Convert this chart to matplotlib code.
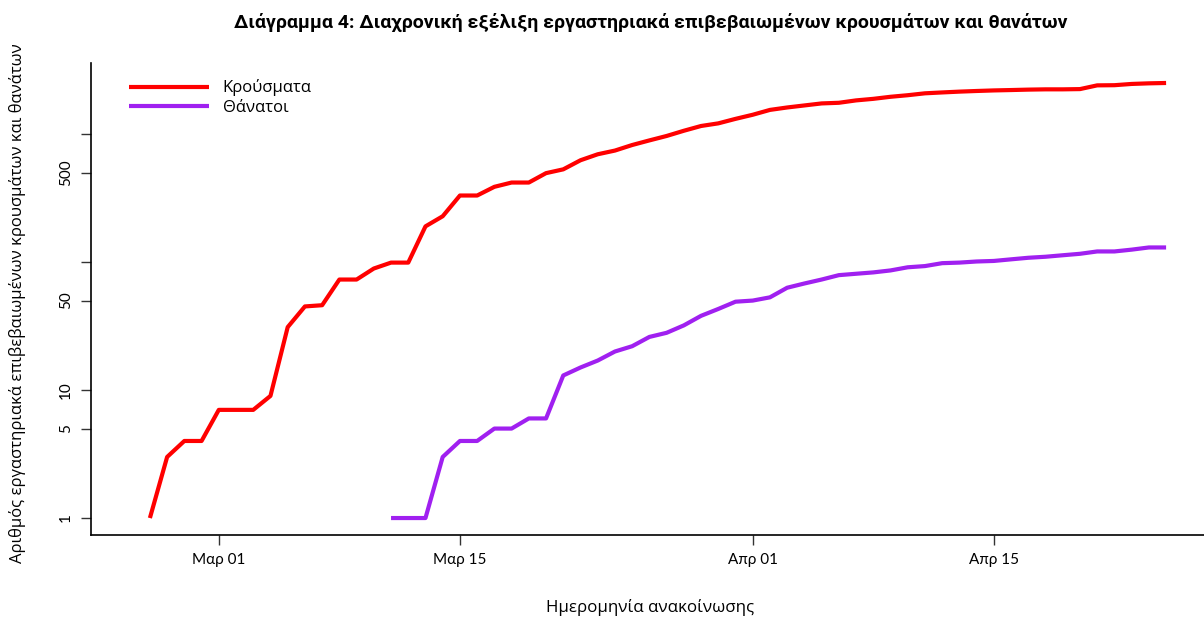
import numpy as np
import pandas as pd
import matplotlib
matplotlib.use("Agg")
import matplotlib.pyplot as plt
import matplotlib.dates as mdates

# ---- data ----
cases_start = "2020-02-26"
cases = [1, 3, 4, 4, 7, 7, 7, 9, 31, 45, 46, 73, 73, 89, 99, 99, 190, 228, 331, 331,
         387, 418, 418, 495, 530, 624, 695, 743, 821, 892, 966, 1061, 1156, 1212, 1314,
         1415, 1544, 1613, 1673, 1735, 1755, 1832, 1884, 1955, 2011, 2081, 2114, 2145,
         2170, 2192, 2207, 2224, 2235, 2235, 2245, 2401, 2408, 2463, 2490, 2506]
deaths_start = "2020-03-11"
deaths = [1, 1, 1, 3, 4, 4, 5, 5, 6, 6, 13, 15, 17, 20, 22, 26, 28, 32, 38, 43, 49,
          50, 53, 63, 68, 73, 79, 81, 83, 86, 91, 93, 98, 99, 101, 102, 105, 108, 110,
          113, 116, 121, 121, 125, 130, 130]
series_labels = ["Κρούσματα", "Θάνατοι"]
x_tick_dates = ["2020-03-01", "2020-03-15", "2020-04-01", "2020-04-15"]
x_tick_labels = ["Μαρ 01", "Μαρ 15", "Απρ 01", "Απρ 15"]
y_ticks = [1, 5, 10, 50, 100, 500, 1000]
y_tick_labels = ["1", "5", "10", "50", "", "500", ""]
title = "Διάγραμμα 4: Διαχρονική εξέλιξη εργαστηριακά επιβεβαιωμένων κρουσμάτων και θανάτων"
xlabel = "Ημερομηνία ανακοίνωσης"
ylabel = "Αριθμός εργαστηριακά επιβεβαιωμένων κρουσμάτων και θανάτων"

cases_dates = pd.date_range(cases_start, periods=len(cases), freq="D")
deaths_dates = pd.date_range(deaths_start, periods=len(deaths), freq="D")

plt.rcParams['font.family'] = ['Open Sans', 'DejaVu Sans']

fig = plt.figure(figsize=(12.04, 6.18), dpi=100)
ax = fig.add_axes([91/1204, (618-535)/618, 1 - 91/1204 + 0.01, (535-63)/618])

ax.plot(cases_dates, cases, color="#FF0000", lw=3, label=series_labels[0], solid_capstyle="butt")
ax.plot(deaths_dates, deaths, color="#A020F0", lw=3, label=series_labels[1], solid_capstyle="butt")

ax.set_yscale("log")
ax.set_ylim(0.737, 3590)
x0 = mdates.date2num(pd.Timestamp("2020-03-01"))
ax.set_xlim(x0 - 7.42, x0 + 57.9)

ax.set_yticks(y_ticks)
ax.set_yticklabels(y_tick_labels, rotation=90, va="center", fontsize=11, family="Lato")
ax.yaxis.set_minor_locator(matplotlib.ticker.NullLocator())
ax.set_xticks([mdates.date2num(pd.Timestamp(d)) for d in x_tick_dates])
ax.set_xticklabels(x_tick_labels, fontsize=11, family="Lato")
ax.tick_params(axis="both", length=7, width=1, color="#333333")
ax.tick_params(axis="x", pad=6)
ax.tick_params(axis="y", pad=6)

for s in ["top", "right"]:
    ax.spines[s].set_visible(False)
for s in ["left", "bottom"]:
    ax.spines[s].set_linewidth(1.2)

fig.text(650/1204, 1 - 607/618, xlabel, ha="center", va="center", fontsize=12.2)
fig.text(18/1204, 1 - 303/618, ylabel, ha="center", va="center", rotation=90, fontsize=12)

fig.text(651/1204, 1 - 22/618, title, ha="center", va="center",
         fontsize=14, fontweight="bold", family="Roboto")

leg = ax.legend(loc="upper left", bbox_to_anchor=(0.02, 0.997), frameon=False,
                fontsize=12, handlelength=4.8, handletextpad=0.85, labelspacing=0.2)

fig.savefig("out.png", dpi=100)
